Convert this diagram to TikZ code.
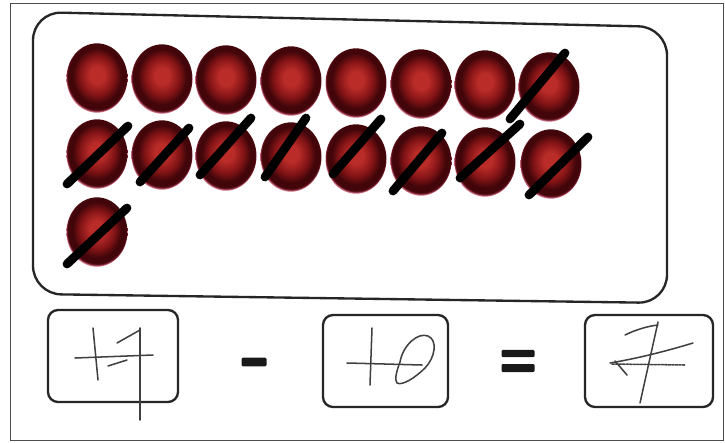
\documentclass[tikz,border=0pt]{standalone}
\usetikzlibrary{shapes.geometric}
\definecolor{rca}{RGB}{186,44,40}
\definecolor{rcb}{RGB}{132,20,22}
\definecolor{rcc}{RGB}{66,6,10}
\definecolor{rcd}{RGB}{120,30,48}
\definecolor{rce}{RGB}{200,110,130}
\pgfdeclareradialshading{redball}{\pgfpoint{0bp}{2.5bp}}{color(0bp)=(rca); color(6bp)=(rca); color(14bp)=(rcb); color(20bp)=(rcc); color(24bp)=(rcc); color(24.8bp)=(rcd); color(25.5bp)=(rce); color(50bp)=(rce)}
\begin{document}
\begin{tikzpicture}[x=0.03cm,y=-0.03cm,
  dot/.style={ellipse, minimum width=1.83cm, minimum height=2.08cm, inner sep=0pt,
    shading=redball, shade},
  slash/.style={line width=7.5pt, line cap=round, black},
  frame/.style={line width=2pt, rounded corners=0.85cm, black!85},
  numbox/.style={draw=black!85, line width=2pt, rounded corners=0.3cm, minimum height=2.76cm, inner sep=0pt},
  bar/.style={fill=black!90, inner sep=0pt, minimum height=0.26cm, rounded corners=1pt},
  hand/.style={line width=1.3pt, black!75, line cap=round, line join=round}]
\useasboundingbox (0,0) rectangle (725,442);
\fill[white] (0,0) rectangle (725,442);
\draw[black!70, line width=0.8pt] (10,3) rectangle (723,440);

% big frame
\draw[frame] (33,12) -- (667,27) -- (667,303) -- (33,294) -- cycle;

% dots row 1
\node[dot] (a1) at (97,78) {};
\node[dot] (a2) at (162,79) {};
\node[dot] (a3) at (226,80) {};
\node[dot] (a4) at (291,81) {};
\node[dot] (a5) at (356,83) {};
\node[dot] (a6) at (421,84) {};
\node[dot] (a7) at (485,85) {};
\node[dot] (a8) at (549,87) {};
% dots row 2
\node[dot] (b1) at (97,154) {};
\node[dot] (b2) at (162,155) {};
\node[dot] (b3) at (226,156) {};
\node[dot] (b4) at (291,157) {};
\node[dot] (b5) at (356,159) {};
\node[dot] (b6) at (421,161) {};
\node[dot] (b7) at (485,162) {};
\node[dot] (b8) at (551,164) {};
% dot row 3
\node[dot] (c1) at (97,232) {};

% slashes
\draw[slash] (510,119) -- (565,53);
\draw[slash] (67,184) -- (128,126);
\draw[slash] (140,182) -- (189,128);
\draw[slash] (200,175) -- (251,118);
\draw[slash] (265,177) -- (306,118);
\draw[slash] (333,174) -- (381,119);
\draw[slash] (393,191) -- (442,133);
\draw[slash] (460,178) -- (520,124);
\draw[slash] (529,195) -- (588,137);
\draw[slash] (67,264) -- (127,208);

% boxes
\node[numbox, minimum width=3.9cm] (n1) at (113,356) {};
\node[numbox, minimum width=3.75cm] (n2) at (385.5,361) {};
\node[numbox, minimum width=3.84cm] (n3) at (649,361) {};

% operators
\node[bar, minimum width=0.75cm] (minus) at (254,362) {};
\node[bar, minimum width=0.99cm, minimum height=0.22cm] (eqa) at (518,353.5) {};
\node[bar, minimum width=0.99cm, minimum height=0.24cm] (eqb) at (518,368) {};

% handwriting 17
\draw[hand] (93,328) -- (98,380);
\draw[hand] (75,358) -- (153,355);
\draw[hand] (117,343) -- (140,330);
\draw[hand] (140,328) -- (140,420);
\draw[hand] (108,366) -- (127,360);
% handwriting 10
\draw[hand] (372,328) -- (370,385);
\draw[hand] (347,363) -- (422,365);
\draw[hand] (400,362) .. controls (403,345) and (418,332) .. (428,336)
  .. controls (438,340) and (435,358) .. (425,368)
  .. controls (415,378) and (402,386) .. (397,383)
  .. controls (394,380) and (397,370) .. (400,362);
% handwriting 7
\draw[hand] (625,335) .. controls (635,330) and (648,326) .. (658,325);
\draw[hand] (658,322) -- (640,403);
\draw[hand] (610,363) .. controls (640,358) and (670,350) .. (693,343);
\draw[hand, dash pattern=on 2pt off 1pt] (612,364) -- (685,365);
\draw[hand] (615,361) -- (627,375);
\end{tikzpicture}
\end{document}
